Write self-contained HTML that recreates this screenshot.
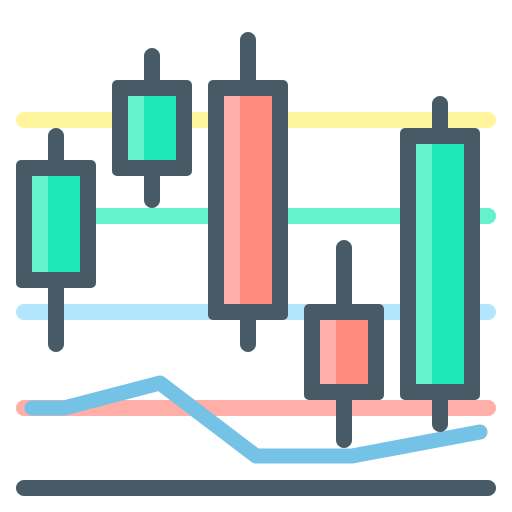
<!DOCTYPE html>
<html><head><meta charset="utf-8"><style>html,body{margin:0;padding:0;background:#fff}svg{display:block}</style></head>
<body>
<svg width="512" height="512" viewBox="0 0 512 512">
<g id="g-lines"></g>
<path id="trend" fill="none" stroke="#74c2e5" stroke-width="15" stroke-linecap="round" stroke-linejoin="round"/>
<g id="g-candles"></g>
<line x1="24" y1="488" x2="488" y2="488" stroke="#475a66" stroke-width="16" stroke-linecap="round"/>
</svg>
<script>
const levelY=[120,216,312,408];
const levelX1=[24,90,24,24];
const levelColors=['#fff59d','#64f2cc','#b3e5fc','#ffaea8'];
const candleX=[56,152,248,344,440];
const candleTop=[160,80,80,304,128];
const candleBottom=[288,176,320,400,400];
const wickTop=[136,56,40,248,104];
const wickBottom=[344,200,344,440,424];
const candleUp=[true,true,false,false,true];
const trendX=[32,64,160,256,352,480];
const trendY=[408,408,383,456,456,432];
const NS='http://www.w3.org/2000/svg';
const gl=document.getElementById('g-lines');
levelY.forEach((y,i)=>{const l=document.createElementNS(NS,'line');


l.setAttribute('x1',levelX1[i]);l.setAttribute('x2',488);l.setAttribute('y1',y);l.setAttribute('y2',y);
l.setAttribute('stroke',levelColors[i]);l.setAttribute('stroke-width',16);l.setAttribute('stroke-linecap','round');gl.appendChild(l);});
document.getElementById('trend').setAttribute('points','');
document.getElementById('trend').setAttribute('d','M'+trendX.map((x,i)=>x+' '+trendY[i]).join(' L'));
const gc=document.getElementById('g-candles');
candleX.forEach((cx,i)=>{
 const g=document.createElementNS(NS,'g');
 
 
 const dark='#475a66';
 const w=document.createElementNS(NS,'line');
 
 
 w.setAttribute('x1',cx);w.setAttribute('x2',cx);w.setAttribute('y1',wickTop[i]);w.setAttribute('y2',wickBottom[i]);
 w.setAttribute('stroke',dark);w.setAttribute('stroke-width',16);w.setAttribute('stroke-linecap','round');g.appendChild(w);
 const o=document.createElementNS(NS,'rect');
 
 
 o.setAttribute('x',cx-40);o.setAttribute('y',candleTop[i]);o.setAttribute('width',80);o.setAttribute('height',candleBottom[i]-candleTop[i]);o.setAttribute('rx',5);o.setAttribute('fill',dark);g.appendChild(o);
 const c1=candleUp[i]?'#64f2cc':'#ffaea8', c2=candleUp[i]?'#1de9b6':'#ff8a7e';
 const a=document.createElementNS(NS,'rect');
 a.setAttribute('x',cx-24);a.setAttribute('y',candleTop[i]+16);a.setAttribute('width',48);a.setAttribute('height',candleBottom[i]-candleTop[i]-32);a.setAttribute('fill',c2);g.appendChild(a);
 const b=document.createElementNS(NS,'rect');
 b.setAttribute('x',cx-24);b.setAttribute('y',candleTop[i]+16);b.setAttribute('width',16);b.setAttribute('height',candleBottom[i]-candleTop[i]-32);b.setAttribute('fill',c1);g.appendChild(b);
 gc.appendChild(g);
});
</script>
</body></html>
